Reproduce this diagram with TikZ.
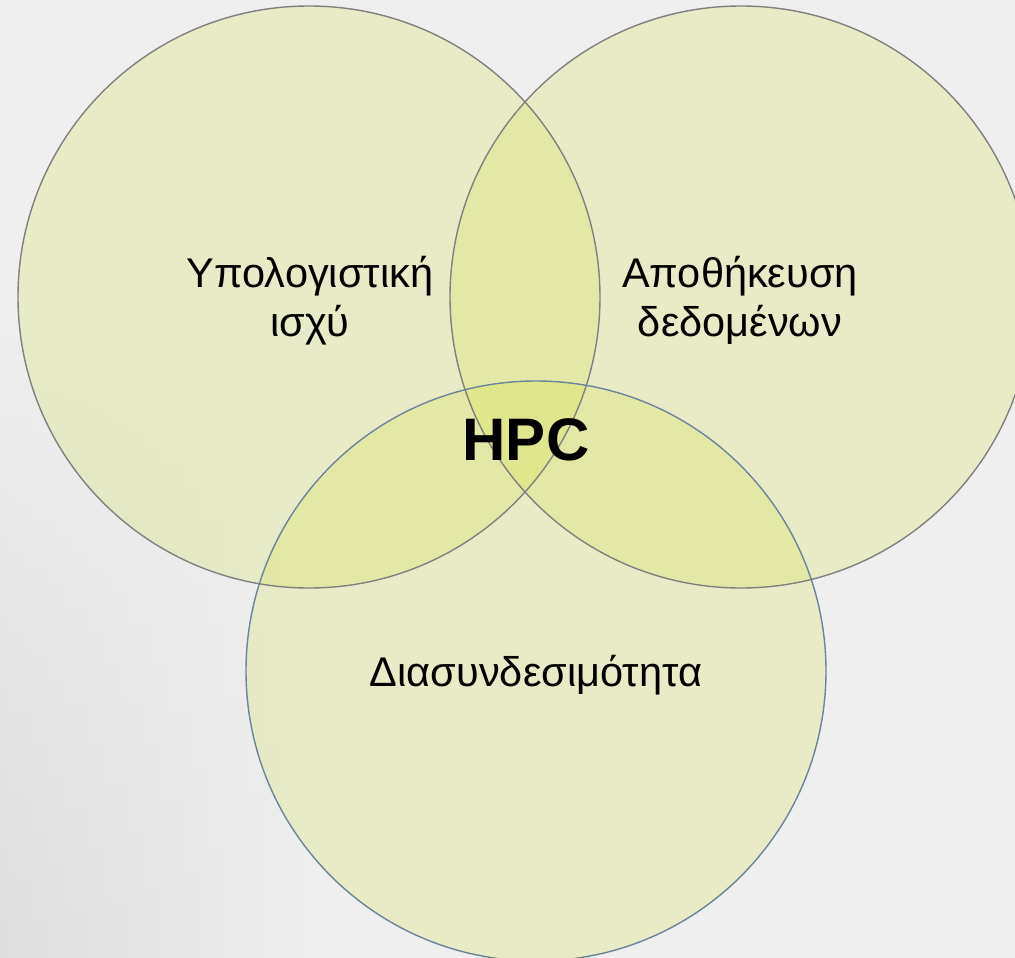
\documentclass[tikz,border=0pt]{standalone}
\usepackage{fontspec}
\setmainfont{Liberation Sans}
\usetikzlibrary{fadings}
\definecolor{bg}{RGB}{239,239,239}
\definecolor{bgdark}{RGB}{222,222,222}
\definecolor{vfill}{RGB}{206,222,22}
\definecolor{grayline}{RGB}{128,128,128}
\definecolor{blueline}{RGB}{106,132,154}
\tikzset{
  venn/.style={fill=vfill, fill opacity=0.18, draw=none},
  vline/.style={line width=1.4pt},
  lbl/.style={font=\fontsize{41.5}{49}\selectfont, align=center, text=black, inner sep=0pt},
}
\begin{document}
\begin{tikzpicture}[x=1pt,y=-1pt]
\useasboundingbox (0,0) rectangle (1015,958);
\fill[bg] (0,0) rectangle (1015,958);
\shade[left color=bgdark, right color=bg, path fading=north] (0,300) rectangle (330,958);
% fills
\path[venn] (309,297) circle[radius=291pt];
\path[venn] (741,297) circle[radius=291pt];
\path[venn] (536,671) circle[radius=290pt];
% outlines
\draw[vline, draw=grayline] (309,297) circle[radius=291pt];
\draw[vline, draw=grayline] (741,297) circle[radius=291pt];
\draw[vline, draw=blueline] (536,671) circle[radius=290pt];
% labels
\node[lbl, anchor=base] (a) at (310,336) {Υπολογιστική\\ισχύ};
\node[lbl, anchor=base] (b) at (740,336) {Αποθήκευση\\δεδομένων};
\node[lbl, anchor=base] (c) at (536,686) {Διασυνδεσιμότητα};
\node[font=\fontsize{60}{70}\selectfont\bfseries, inner sep=0pt, anchor=base] (h) at (526,460) {HPC};
\end{tikzpicture}
\end{document}
